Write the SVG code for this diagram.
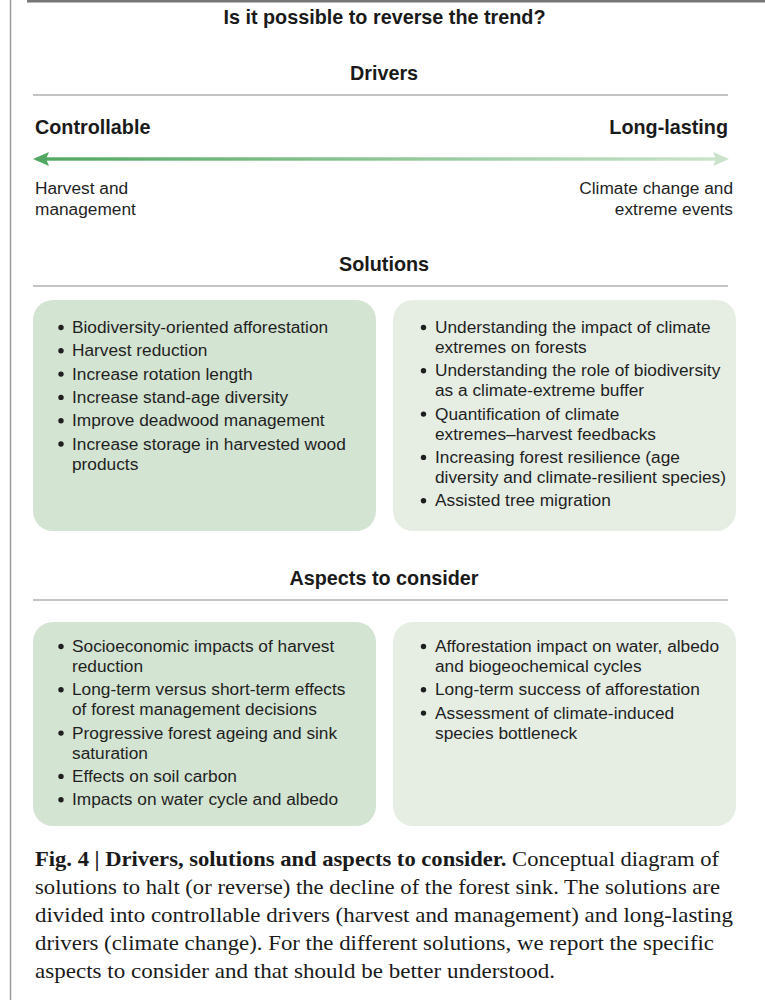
<svg xmlns="http://www.w3.org/2000/svg" width="765" height="1000" viewBox="0 0 765 1000">
<style>
.h{font-family:"Liberation Sans",Arial,sans-serif;font-weight:bold;font-size:19.8px;fill:#1a1a1a}
.t{font-family:"Liberation Sans",Arial,sans-serif;font-size:17.3px;fill:#1f1f1f}
.cap{font-family:"Liberation Serif","Times New Roman",serif;font-size:21px;fill:#1a1a1a}
.b{font-weight:bold}
.rule{stroke:#8a8a8a;stroke-width:1.2}
.boxA{fill:#d4e4d2}
.boxB{fill:#e6eee4}
.dot{fill:#1f1f1f}
</style>
<defs>
<linearGradient id="ag" x1="0" y1="0" x2="1" y2="0">
<stop offset="0" stop-color="#52a862"/>
<stop offset="1" stop-color="#cae3ca"/>
</linearGradient>
</defs>
<rect width="765" height="1000" fill="#ffffff"/>
<line x1="27" y1="1.2" x2="765" y2="1.2" stroke="#777" stroke-width="2.5"/>
<line x1="10.5" y1="0" x2="10.5" y2="1000" stroke="#9a9a9a" stroke-width="1.5"/>

<g id="title">
<text class="h" x="384.5" y="24" text-anchor="middle">Is it possible to reverse the trend?</text>
</g>

<g id="drivers-header">
<text class="h" x="384" y="80" text-anchor="middle">Drivers</text>
<line class="rule" x1="33" y1="95" x2="728" y2="95"/>
</g>

<g id="controllable">
<text class="h" x="35" y="134">Controllable</text>
<text class="t" x="35" y="194">Harvest and</text>
<text class="t" x="35" y="215">management</text>
</g>

<g id="long-lasting">
<text class="h" x="728" y="134" text-anchor="end">Long-lasting</text>
<text class="t" x="733" y="194" text-anchor="end">Climate change and</text>
<text class="t" x="733" y="215" text-anchor="end">extreme events</text>
</g>

<g id="connectors">
<rect x="46" y="157.3" width="670" height="3.4" fill="url(#ag)"/>
<polygon points="33,159 49,152 46,159 49,166" fill="#52a862"/>
<polygon points="729,159 713,152 716,159 713,166" fill="#cae3ca"/>
</g>

<g id="solutions-header">
<text class="h" x="384" y="271" text-anchor="middle">Solutions</text>
<line class="rule" x1="33" y1="286" x2="728" y2="286"/>
</g>

<g id="solutions-controllable">
<rect class="boxA" x="33" y="300" width="343" height="231" rx="20"/>
<circle class="dot" cx="61" cy="327.5" r="2.7"/><text class="t" x="72" y="333">Biodiversity-oriented afforestation</text>
<circle class="dot" cx="61" cy="350.8" r="2.7"/><text class="t" x="72" y="356.3">Harvest reduction</text>
<circle class="dot" cx="61" cy="374.1" r="2.7"/><text class="t" x="72" y="379.6">Increase rotation length</text>
<circle class="dot" cx="61" cy="397.4" r="2.7"/><text class="t" x="72" y="402.9">Increase stand-age diversity</text>
<circle class="dot" cx="61" cy="420.7" r="2.7"/><text class="t" x="72" y="426.2">Improve deadwood management</text>
<circle class="dot" cx="61" cy="444" r="2.7"/><text class="t" x="72" y="449.5">Increase storage in harvested wood</text>
<text class="t" x="72" y="469.5">products</text>
</g>

<g id="solutions-long-lasting">
<rect class="boxB" x="393" y="300" width="343" height="231" rx="20"/>
<circle class="dot" cx="423.5" cy="327.5" r="2.7"/><text class="t" x="435" y="333">Understanding the impact of climate</text>
<text class="t" x="435" y="353">extremes on forests</text>
<circle class="dot" cx="423.5" cy="370.8" r="2.7"/><text class="t" x="435" y="376.3">Understanding the role of biodiversity</text>
<text class="t" x="435" y="396.3">as a climate-extreme buffer</text>
<circle class="dot" cx="423.5" cy="414.1" r="2.7"/><text class="t" x="435" y="419.6">Quantification of climate</text>
<text class="t" x="435" y="439.6">extremes–harvest feedbacks</text>
<circle class="dot" cx="423.5" cy="457.4" r="2.7"/><text class="t" x="435" y="462.9">Increasing forest resilience (age</text>
<text class="t" x="435" y="482.9">diversity and climate-resilient species)</text>
<circle class="dot" cx="423.5" cy="500.7" r="2.7"/><text class="t" x="435" y="506.2">Assisted tree migration</text>
</g>

<g id="aspects-header">
<text class="h" x="384" y="585" text-anchor="middle">Aspects to consider</text>
<line class="rule" x1="33" y1="600" x2="728" y2="600"/>
</g>

<g id="aspects-controllable">
<rect class="boxA" x="33" y="622" width="343" height="204" rx="20"/>
<circle class="dot" cx="61" cy="646.5" r="2.7"/><text class="t" x="72" y="652">Socioeconomic impacts of harvest</text>
<text class="t" x="72" y="672">reduction</text>
<circle class="dot" cx="61" cy="689.8" r="2.7"/><text class="t" x="72" y="695.3">Long-term versus short-term effects</text>
<text class="t" x="72" y="715.3">of forest management decisions</text>
<circle class="dot" cx="61" cy="733.1" r="2.7"/><text class="t" x="72" y="738.6">Progressive forest ageing and sink</text>
<text class="t" x="72" y="758.6">saturation</text>
<circle class="dot" cx="61" cy="776.4" r="2.7"/><text class="t" x="72" y="781.9">Effects on soil carbon</text>
<circle class="dot" cx="61" cy="799.7" r="2.7"/><text class="t" x="72" y="805.2">Impacts on water cycle and albedo</text>
</g>

<g id="aspects-long-lasting">
<rect class="boxB" x="393" y="622" width="343" height="204" rx="20"/>
<circle class="dot" cx="423.5" cy="646.5" r="2.7"/><text class="t" x="435" y="652">Afforestation impact on water, albedo</text>
<text class="t" x="435" y="672">and biogeochemical cycles</text>
<circle class="dot" cx="423.5" cy="689.8" r="2.7"/><text class="t" x="435" y="695.3">Long-term success of afforestation</text>
<circle class="dot" cx="423.5" cy="713.1" r="2.7"/><text class="t" x="435" y="718.6">Assessment of climate-induced</text>
<text class="t" x="435" y="738.6">species bottleneck</text>
</g>

<g id="caption">
<text class="cap" x="35" y="866" textLength="684" lengthAdjust="spacingAndGlyphs"><tspan class="b">Fig. 4 | Drivers, solutions and aspects to consider.</tspan> Conceptual diagram of</text>
<text class="cap" x="35" y="894" textLength="685" lengthAdjust="spacingAndGlyphs">solutions to halt (or reverse) the decline of the forest sink. The solutions are</text>
<text class="cap" x="35" y="922" textLength="698" lengthAdjust="spacingAndGlyphs">divided into controllable drivers (harvest and management) and long-lasting</text>
<text class="cap" x="35" y="950" textLength="679" lengthAdjust="spacingAndGlyphs">drivers (climate change). For the different solutions, we report the specific</text>
<text class="cap" x="35" y="978" textLength="520" lengthAdjust="spacingAndGlyphs">aspects to consider and that should be better understood.</text>
</g>
</svg>
